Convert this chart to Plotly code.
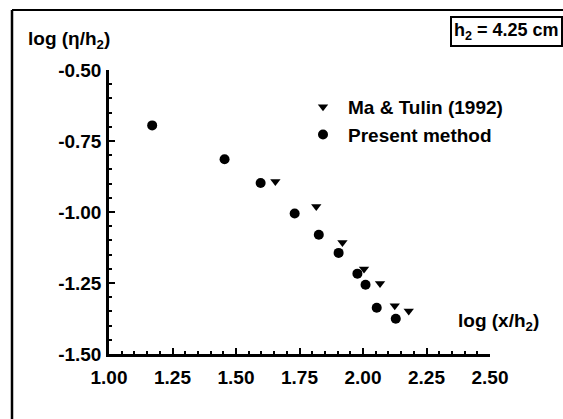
import plotly.graph_objects as go

# Data
ma_x = [1.655, 1.816, 1.919, 2.004, 2.067, 2.125, 2.180]
ma_y = [-0.893, -0.981, -1.107, -1.201, -1.252, -1.330, -1.349]
pm_x = [1.170, 1.455, 1.597, 1.731, 1.826, 1.904, 1.978, 2.010, 2.054, 2.129]
pm_y = [-0.695, -0.814, -0.898, -1.005, -1.080, -1.144, -1.217, -1.256, -1.337, -1.376]
x_ticks = [1.00, 1.25, 1.50, 1.75, 2.00, 2.25, 2.50]
y_ticks = [-0.50, -0.75, -1.00, -1.25, -1.50]
series_names = ["Ma &amp; Tulin (1992)", "Present method"]

FONT = "Liberation Sans, Arial, sans-serif"
W, H = 563, 419
L, R, T, B = 109, 73, 70, 65
PW, PH = W - L - R, H - T - B

def px(x):
    return (x - L) / PW

def py(y):
    return (H - B - y) / PH

fig = go.Figure()
fig.add_trace(go.Scatter(
    x=ma_x, y=ma_y, mode="markers", name=series_names[0], legendgroup="a",
    marker=dict(symbol="triangle-down", size=9, color="black"),
))
fig.add_trace(go.Scatter(
    x=pm_x, y=pm_y, mode="markers", name=series_names[1], legendgroup="b",
    marker=dict(symbol="circle", size=10, color="black"),
))

axis_common = dict(
    showline=True, linecolor="black", linewidth=2.5,
    ticks="inside", ticklen=6, tickwidth=2, tickcolor="black",
    showgrid=False, zeroline=False,
    tickfont=dict(family=FONT, size=19, color="black", weight="bold"),
    minor=dict(ticks="inside", ticklen=3, tickwidth=1.5, tickcolor="black", dtick=0.05, showgrid=False),
)

fig.update_layout(
    width=W, height=H,
    margin=dict(l=L, r=R, t=T, b=B),
    paper_bgcolor="white", plot_bgcolor="white",
    font=dict(family=FONT, color="black", size=19, weight="bold"),
    xaxis=dict(range=[1.0, 2.5], tickvals=x_ticks, ticktext=[f"{v:.2f}" for v in x_ticks],
               ticklabelstandoff=4, **axis_common),
    yaxis=dict(range=[-1.5, -0.5], tickvals=y_ticks, ticktext=[f"{v:.2f}" for v in y_ticks],
               ticklabelstandoff=1, **axis_common),
    showlegend=True,
    legend=dict(
        x=px(298), y=py(88), xanchor="left", yanchor="top",
        bgcolor="rgba(0,0,0,0)", borderwidth=0, itemwidth=40,
        font=dict(family=FONT, size=19, color="black", weight="bold"),
        tracegroupgap=4, traceorder="normal",
    ),
    shapes=[
        dict(type="line", xref="paper", yref="paper", x0=px(12), y0=py(10), x1=px(600), y1=py(10),
             line=dict(color="black", width=2)),
        dict(type="line", xref="paper", yref="paper", x0=px(12), y0=py(10), x1=px(12), y1=py(450),
             line=dict(color="black", width=2.5)),
    ],
    annotations=[
        dict(text="log (η/h<sub>2</sub>)", xref="paper", yref="paper", x=px(26), y=py(40),
             xanchor="left", yanchor="middle", showarrow=False,
             font=dict(family=FONT, size=19, color="black", weight="bold")),
        dict(text="log (x/h<sub>2</sub>)", xref="paper", yref="paper", x=px(456), y=py(322),
             xanchor="left", yanchor="middle", showarrow=False,
             font=dict(family=FONT, size=19, color="black", weight="bold")),
        dict(text="h<sub>2</sub> = 4.25 cm", xref="paper", yref="paper", x=px(506), y=py(32),
             xanchor="center", yanchor="middle", showarrow=False,
             bordercolor="black", borderwidth=2, borderpad=2, bgcolor="white",
             font=dict(family=FONT, size=18, color="black", weight="bold")),
    ],
)

fig.write_html("out.html")
